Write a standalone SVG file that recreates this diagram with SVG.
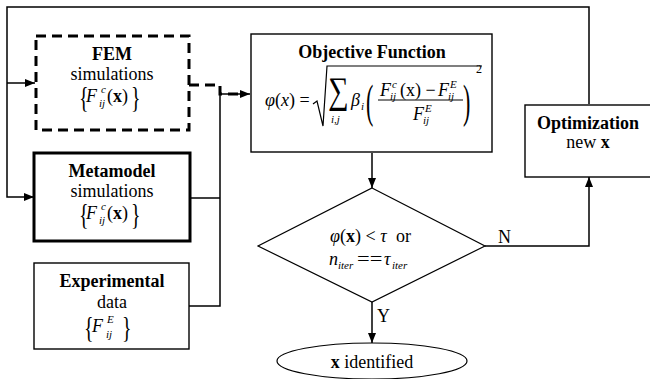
<svg xmlns="http://www.w3.org/2000/svg" width="650" height="379" viewBox="0 0 650 379" font-family="Liberation Serif">
<style>
text{fill:#000}
.t{font-size:18px}
.b{font-weight:bold}
.i{font-style:italic}
.s{font-size:11px;font-style:italic}
.br{font-size:20px}
.box{fill:#fff;stroke:#000;stroke-width:1.4}
.thick{fill:#fff;stroke:#000;stroke-width:3}
.dash{fill:#fff;stroke:#000;stroke-width:3;stroke-dasharray:10,6}
.ln{fill:none;stroke:#000;stroke-width:1.5}
.dln{fill:none;stroke:#000;stroke-width:3;stroke-dasharray:10,6}
</style>
<defs>
<marker id="ah" markerUnits="userSpaceOnUse" markerWidth="10" markerHeight="8" refX="10" refY="4" orient="auto">
<path d="M0,0 L10,4 L0,8 z" fill="#000"/>
</marker>
</defs>
<rect width="650" height="379" fill="#fff"/>
<g id="connectors" font-family="Liberation Serif">
<path class="ln" d="M589,104 V7 H7 V197 H34" marker-end="url(#ah)"/>
<path class="ln" d="M7,83 H35" marker-end="url(#ah)"/>
<path class="dln" d="M189,85 H220 V94 H242"/>
<path class="ln" d="M220,94 H250" marker-end="url(#ah)"/>
<path class="ln" d="M190,198 H220"/>
<path class="ln" d="M189,306 H220 V94"/>
<path class="ln" d="M372,153 V188" marker-end="url(#ah)"/>
<path class="ln" d="M485,246 H589 V177" marker-end="url(#ah)"/>
<path class="ln" d="M372,302 V343" marker-end="url(#ah)"/>
<text class="t" x="498" y="243">N</text>
<text class="t" x="377" y="322">Y</text>
</g>
<g id="fem" font-family="Liberation Serif">
<rect class="dash" x="36" y="36" width="153" height="94"/>
<text class="t b" x="112" y="60" text-anchor="middle">FEM</text>
<text class="t" x="112" y="80" text-anchor="middle">simulations</text>
<text class="br" transform="translate(79,107) scale(1,1.45)">{</text>
<text class="t i" x="86" y="102">F</text>
<text class="s" x="101" y="93">c</text>
<text class="s" x="99" y="107">ij</text>
<text class="t" x="107" y="102">(<tspan class="b">x</tspan>)</text>
<text class="br" transform="translate(131,107) scale(1,1.45)">}</text>
</g>
<g id="metamodel" font-family="Liberation Serif">
<rect class="thick" x="34" y="153" width="156" height="88"/>
<text class="t b" x="112" y="177" text-anchor="middle">Metamodel</text>
<text class="t" x="112" y="197" text-anchor="middle">simulations</text>
<text class="br" transform="translate(79,224) scale(1,1.45)">{</text>
<text class="t i" x="86" y="219">F</text>
<text class="s" x="101" y="210">c</text>
<text class="s" x="99" y="224">ij</text>
<text class="t" x="107" y="219">(<tspan class="b">x</tspan>)</text>
<text class="br" transform="translate(131,224) scale(1,1.45)">}</text>
</g>
<g id="experimental" font-family="Liberation Serif">
<rect class="box" x="34" y="263" width="155" height="86"/>
<text class="t b" x="112" y="287" text-anchor="middle">Experimental</text>
<text class="t" x="112" y="308" text-anchor="middle">data</text>
<text class="br" transform="translate(84,337) scale(1,1.45)">{</text>
<text class="t i" x="92" y="332">F</text>
<text class="s" x="107" y="323">E</text>
<text class="s" x="106" y="338">ij</text>
<text class="br" transform="translate(122,337) scale(1,1.45)">}</text>
</g>
<g id="objective" font-family="Liberation Serif">
<rect class="box" x="251" y="34" width="241" height="118"/>
<text class="t b" x="372" y="58" text-anchor="middle">Objective Function</text>
<text class="t" x="265" y="106"><tspan class="i">φ</tspan>(<tspan class="i">x</tspan>) =</text>
<path class="ln" d="M313,104 L317,101 L323,126 L327,66 H482" style="stroke-width:1.2"/>
<text transform="translate(328,103) scale(1.2,1.55)" style="font-size:24px">∑</text>
<text class="s" x="331" y="123">i,j</text>
<text class="t i" x="351" y="106">β</text>
<text class="s" x="361" y="110">i</text>
<text transform="translate(366,117) scale(1,2.1)" style="font-size:22px">(</text>
<text class="t i" x="380" y="96">F</text>
<text class="s" x="392" y="88">c</text>
<text class="s" x="390" y="100">ij</text>
<text class="t" x="400" y="96">(x) − </text>
<text class="t i" x="438" y="96">F</text>
<text class="s" x="450" y="88">E</text>
<text class="s" x="448" y="100">ij</text>
<path class="ln" d="M378,100 H463" style="stroke-width:1"/>
<text class="t i" x="413" y="120">F</text>
<text class="s" x="425" y="112">E</text>
<text class="s" x="423" y="124">ij</text>
<text transform="translate(463,117) scale(1,2.1)" style="font-size:22px">)</text>
<text x="476" y="73" style="font-size:12px">2</text>
</g>
<g id="decision" font-family="Liberation Serif">
<polygon points="372,188 485,246 372,302 258,246" fill="#fff" stroke="#000" stroke-width="1.2"/>
<text class="t" x="330" y="242"><tspan class="i">φ</tspan>(<tspan class="b">x</tspan>) &lt; <tspan class="i">τ</tspan></text>
<text class="t" x="396" y="242">or</text>
<text class="t i" x="329" y="265">n</text>
<text class="s" x="338" y="269">iter</text>
<text class="t" transform="translate(357,265) scale(1.25,1)">==</text>
<text class="t i" x="384" y="265">τ</text>
<text class="s" x="392" y="269">iter</text>
</g>
<g id="optimization" font-family="Liberation Serif">
<rect class="box" x="525" y="105" width="128" height="72"/>
<text class="t b" x="588" y="129" text-anchor="middle">Optimization</text>
<text class="t" x="588" y="148" text-anchor="middle">new <tspan class="b">x</tspan></text>
</g>
<g id="identified" font-family="Liberation Serif">
<ellipse cx="372" cy="361" rx="95" ry="18" fill="#fff" stroke="#000" stroke-width="1.2"/>
<text class="t" x="372" y="368" text-anchor="middle"><tspan class="b">x</tspan> identified</text>
</g>
</svg>
